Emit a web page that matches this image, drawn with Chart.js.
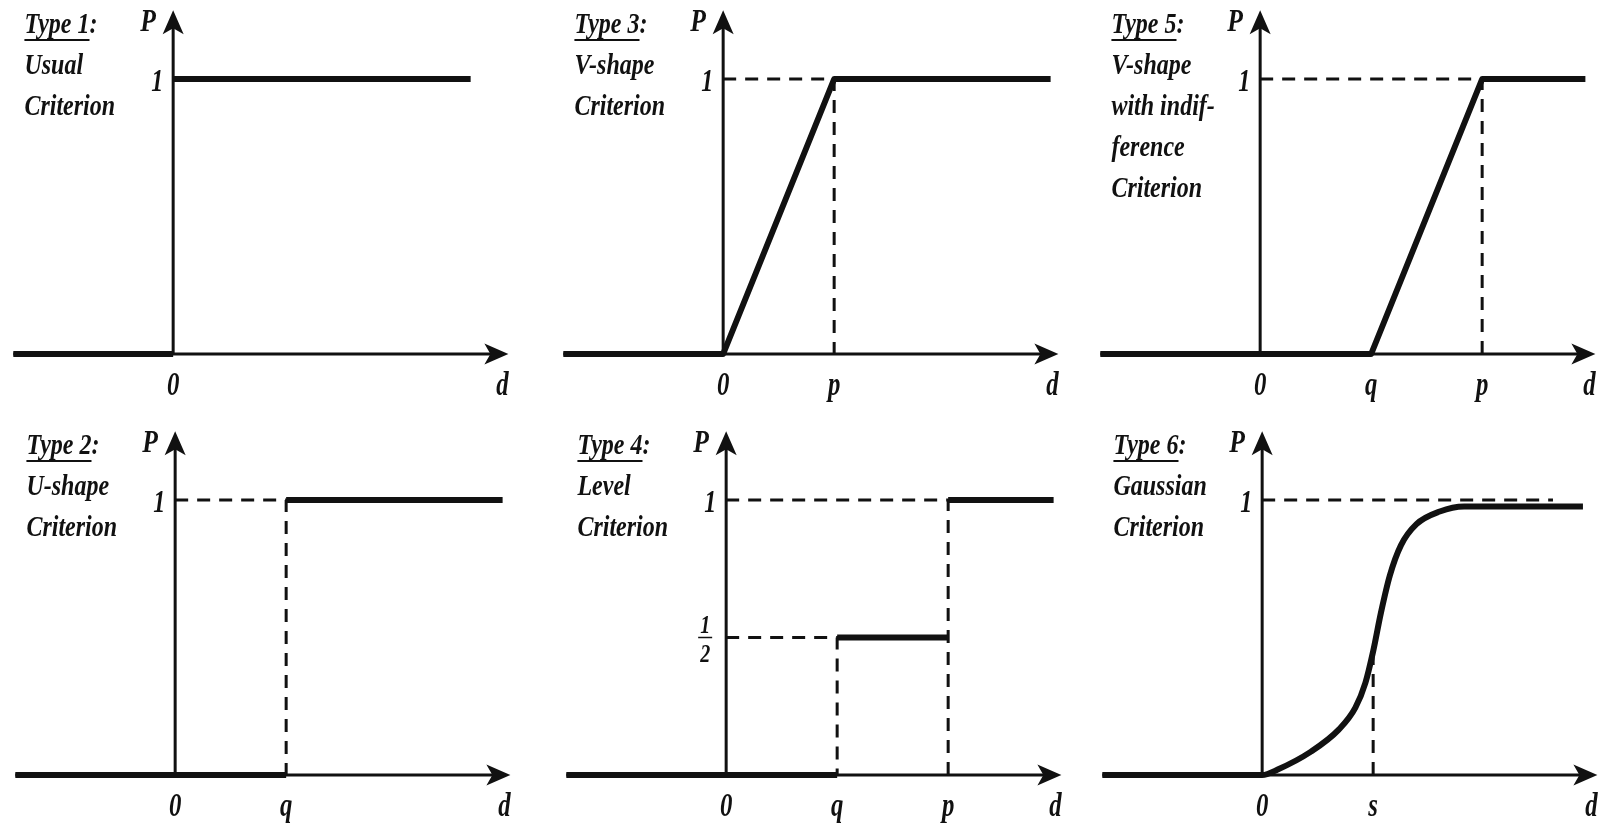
<!DOCTYPE html>
<html>
<head>
<meta charset="utf-8">
<script src="https://cdn.jsdelivr.net/npm/chart.js@4.4.1/dist/chart.umd.min.js"></script>
<style>
  body { margin: 0; background: #fff; width: 1606px; height: 829px; overflow: hidden; position: relative; }
  canvas { position: absolute; }
</style>
</head>
<body>
<script>
// d is measured in threshold units (q, p, s), P is the preference degree

// Type 1: usual criterion
const usualD = [-1.44, 0, 0, 0, 2.68];
const usualP = [0, 0, null, 1, 1];
const usualTicks = [0];
const usualTickText = ['0'];

// Type 2: U-shape criterion
const uShapeD = [-1.44, 1, 1, 1, 2.95];
const uShapeP = [0, 0, null, 1, 1];
const uShapeTicks = [0, 1];
const uShapeTickText = ['0', 'q'];
const uShapeGuideD = [0, 1, 1];
const uShapeGuideP = [1, 1, 0];

// Type 3: V-shape criterion
const vShapeD = [-1.44, 0, 1, 2.95];
const vShapeP = [0, 0, 1, 1];
const vShapeTicks = [0, 1];
const vShapeTickText = ['0', 'p'];
const vShapeGuideD = [0, 1, 1];
const vShapeGuideP = [1, 1, 0];

// Type 4: level criterion
const levelD = [-1.44, 1, 1, 1, 2, 2, 2, 2.95];
const levelP = [0, 0, null, 0.5, 0.5, null, 1, 1];
const levelTicks = [0, 1, 2];
const levelTickText = ['0', 'q', 'p'];
const levelGuideD = [0, 1, 1, 1, 0, 2, 2];
const levelGuideP = [0.5, 0.5, 0, null, 1, 1, 0];

// Type 5: V-shape with indifference criterion
const linearD = [-1.44, 1, 2, 2.93];
const linearP = [0, 0, 1, 1];
const linearTicks = [0, 1, 2];
const linearTickText = ['0', 'q', 'p'];
const linearGuideD = [0, 2, 2];
const linearGuideP = [1, 1, 0];

// Type 6: Gaussian criterion
const gaussD = [-1.44, 0, 0.14, 0.44, 0.69, 0.84, 0.93, 1.0, 1.07, 1.15, 1.25, 1.39, 1.6, 1.82, 2.89];
const gaussP = [0, 0, 0.02, 0.085, 0.165, 0.245, 0.335, 0.45, 0.59, 0.725, 0.835, 0.912, 0.958, 0.976, 0.976];
const gaussTicks = [0, 1];
const gaussTickText = ['0', 's'];
const gaussGuideD = [0, 2.62, 2.62, 1, 1];
const gaussGuideP = [1, 1, null, 0, gaussP[gaussD.indexOf(1)]];

const INK = '#111';
const SERIF = "'Liberation Serif', 'Times New Roman', serif";

// axis extents, in data units
const AXIS_FROM = -1.44, AXIS_TO = 3.02, P_AXIS_TO = 1.25;
const UX = 111, UY = 275;          // pixels per unit
const CW = 518, CH = 407;          // canvas size
const X_MIN = -1.56, Y_MAX = 1.28;

const pts = (xs, ys) => xs.map((v, i) => ({ x: v, y: ys[i] }));

function squeezed(ctx, text, px, py, font, sx, align) {
  ctx.save();
  ctx.font = font;
  ctx.translate(px, py);
  ctx.scale(sx, 1);
  ctx.textAlign = align;
  ctx.textBaseline = 'alphabetic';
  ctx.fillText(text, 0, 0);
  ctx.restore();
}

function arrowHead(ctx, tx, ty, dx, dy) {
  const L = 24, W = 10.5, N = 6;
  const nx = -dy, ny = dx;
  ctx.beginPath();
  ctx.moveTo(tx, ty);
  ctx.lineTo(tx - L * dx + W * nx, ty - L * dy + W * ny);
  ctx.lineTo(tx - (L - N) * dx, ty - (L - N) * dy);
  ctx.lineTo(tx - L * dx - W * nx, ty - L * dy - W * ny);
  ctx.closePath();
  ctx.fill();
}

const frame = {
  id: 'frame',
  beforeDatasetsDraw(chart) {
    const { ctx, scales: { x, y } } = chart;
    const ox = x.getPixelForValue(0), oy = y.getPixelForValue(0);
    const xEnd = x.getPixelForValue(AXIS_TO), yEnd = y.getPixelForValue(P_AXIS_TO);
    ctx.save();
    ctx.strokeStyle = INK;
    ctx.fillStyle = INK;
    ctx.lineWidth = 3;
    ctx.beginPath();
    ctx.moveTo(x.getPixelForValue(AXIS_FROM), oy);
    ctx.lineTo(xEnd - 12, oy);
    ctx.moveTo(ox, oy);
    ctx.lineTo(ox, yEnd + 12);
    ctx.stroke();
    arrowHead(ctx, xEnd, oy, 1, 0);
    arrowHead(ctx, ox, yEnd, 0, -1);
    ctx.restore();
  },
  afterDatasetsDraw(chart, args, opts) {
    const { ctx, scales: { x, y } } = chart;
    const ox = x.getPixelForValue(0);
    const labelY = y.getPixelForValue(-0.148);
    const tickFont = 'italic bold 33px ' + SERIF;
    ctx.save();
    ctx.fillStyle = INK;
    ctx.strokeStyle = INK;

    // title block, first line underlined up to the colon
    const tx = x.getPixelForValue(-1.34);
    opts.title.forEach((line, i) => {
      const by = y.getPixelForValue(1.167) + i * 41;
      const font = 'italic bold 30px ' + SERIF;
      squeezed(ctx, line, tx, by, font, 0.8, 'left');
      if (i === 0) {
        ctx.font = font;
        const w = ctx.measureText(line.replace(':', '')).width * 0.8;
        ctx.lineWidth = 2;
        ctx.beginPath();
        ctx.moveTo(tx, by + 7);
        ctx.lineTo(tx + w, by + 7);
        ctx.stroke();
      }
    });

    // axis names
    squeezed(ctx, 'P', ox - 25, y.getPixelForValue(1.175), 'italic bold 32px ' + SERIF, 0.8, 'center');
    squeezed(ctx, 'd', x.getPixelForValue(AXIS_TO) - 6, labelY, tickFont, 0.75, 'center');

    // d ticks
    opts.ticks.forEach((v, i) => {
      squeezed(ctx, opts.tickText[i], x.getPixelForValue(v), labelY, tickFont, 0.75, 'center');
    });

    // P levels
    opts.levels.forEach((v, i) => {
      const py = y.getPixelForValue(v);
      if (opts.levelText[i] === '1/2') {
        const f = 'italic bold 25px ' + SERIF;
        squeezed(ctx, '1', ox - 21, py - 5, f, 0.8, 'center');
        squeezed(ctx, '2', ox - 21, py + 24, f, 0.8, 'center');
        ctx.lineWidth = 1.5;
        ctx.beginPath();
        ctx.moveTo(ox - 28, py);
        ctx.lineTo(ox - 14, py);
        ctx.stroke();
      } else {
        squeezed(ctx, opts.levelText[i], ox - 16, py + 12, 'italic bold 32px ' + SERIF, 0.75, 'center');
      }
    });
    ctx.restore();
  }
};

const panels = [
  { origin: [173, 354], d: usualD, p: usualP, ticks: usualTicks, tickText: usualTickText,
    title: ['Type 1:', 'Usual', 'Criterion'] },
  { origin: [723, 354], d: vShapeD, p: vShapeP, ticks: vShapeTicks, tickText: vShapeTickText,
    guideD: vShapeGuideD, guideP: vShapeGuideP, title: ['Type 3:', 'V-shape', 'Criterion'] },
  { origin: [1260, 354], d: linearD, p: linearP, ticks: linearTicks, tickText: linearTickText,
    guideD: linearGuideD, guideP: linearGuideP,
    title: ['Type 5:', 'V-shape', 'with indif-', 'ference', 'Criterion'] },
  { origin: [175, 775], d: uShapeD, p: uShapeP, ticks: uShapeTicks, tickText: uShapeTickText,
    guideD: uShapeGuideD, guideP: uShapeGuideP, title: ['Type 2:', 'U-shape', 'Criterion'] },
  { origin: [726, 775], d: levelD, p: levelP, ticks: levelTicks, tickText: levelTickText,
    guideD: levelGuideD, guideP: levelGuideP, levels: [0.5, 1], levelText: ['1/2', '1'],
    title: ['Type 4:', 'Level', 'Criterion'] },
  { origin: [1262, 775], d: gaussD, p: gaussP, ticks: gaussTicks, tickText: gaussTickText,
    guideD: gaussGuideD, guideP: gaussGuideP, smooth: true,
    title: ['Type 6:', 'Gaussian', 'Criterion'] }
];

panels.forEach(pn => {
  const cv = document.createElement('canvas');
  cv.width = CW;
  cv.height = CH;
  cv.style.left = Math.round(pn.origin[0] + X_MIN * UX) + 'px';
  cv.style.top = Math.round(pn.origin[1] - Y_MAX * UY) + 'px';
  document.body.appendChild(cv);

  const datasets = [{
    data: pts(pn.d, pn.p),
    borderColor: INK,
    borderWidth: 6,
    borderJoinStyle: 'round',
    pointRadius: 0,
    cubicInterpolationMode: pn.smooth ? 'monotone' : 'default',
    order: 0
  }];
  if (pn.guideD) {
    datasets.push({
      data: pts(pn.guideD, pn.guideP),
      borderColor: INK,
      borderWidth: 3,
      borderDash: [13, 9],
      pointRadius: 0,
      order: 1
    });
  }

  new Chart(cv, {
    type: 'line',
    data: { datasets },
    options: {
      responsive: false,
      animation: false,
      events: [],
      layout: { padding: 0 },
      scales: {
        x: { type: 'linear', display: false, min: X_MIN, max: X_MIN + CW / UX },
        y: { type: 'linear', display: false, min: Y_MAX - CH / UY, max: Y_MAX }
      },
      plugins: {
        legend: { display: false },
        tooltip: { enabled: false },
        frame: {
          title: pn.title,
          ticks: pn.ticks,
          tickText: pn.tickText,
          levels: pn.levels || [1],
          levelText: pn.levelText || ['1']
        }
      }
    },
    plugins: [frame]
  });
});
</script>
</body>
</html>
